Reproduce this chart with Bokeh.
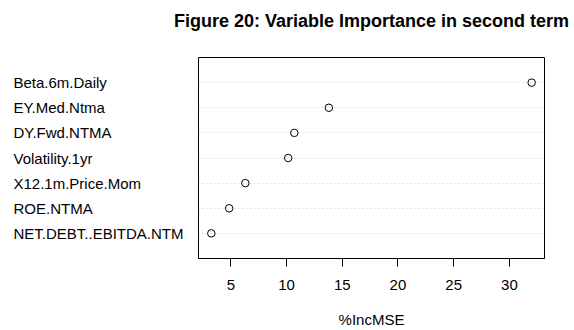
from bokeh.plotting import figure
from bokeh.layouts import row, column
from bokeh.models import Range1d, FixedTicker, ColumnDataSource, Grid
from bokeh.core.properties import value
from bokeh.embed import file_html
from bokeh.resources import INLINE

variables = ["Beta.6m.Daily", "EY.Med.Ntma", "DY.Fwd.NTMA", "Volatility.1yr",
             "X12.1m.Price.Mom", "ROE.NTMA", "NET.DEBT..EBITDA.NTM"]
inc_mse = [32.0, 13.8, 10.7, 10.15, 6.3, 4.85, 3.25]
x_ticks = [5, 10, 15, 20, 25, 30]
title_text = "Figure 20: Variable Importance in second term"
x_title = "%IncMSE"

FONT = "Liberation Sans"
n = len(variables)
ypos = [n - i for i in range(n)]
src = ColumnDataSource(dict(var=variables, v=inc_mse, y=ypos, x0=[0] * n))

lo, hi = min(inc_mse), max(inc_mse)
pad = (hi - lo) * 0.04
yr = Range1d(0, n + 1)

LEFT_W, MAIN_W, RIGHT_B = 198, 376, 30
TITLE_H, ROW_H = 55, 275
TOP, BOTTOM = 2, 71


def clean(fig):
    fig.background_fill_color = "white"
    fig.border_fill_color = "white"
    fig.xgrid.visible = False
    fig.ygrid.visible = False


# title strip (title centred over the plotting frame below it)
tfig = figure(width=LEFT_W + MAIN_W, height=TITLE_H, output_backend="svg",
              toolbar_location=None, x_axis_location=None, y_axis_location=None,
              x_range=Range1d(0, 1), y_range=Range1d(0, 1),
              min_border_left=LEFT_W, min_border_right=RIGHT_B,
              min_border_top=30, min_border_bottom=0)
clean(tfig)
tfig.outline_line_color = None
tfig.title.text = title_text
tfig.title.align = "center"
tfig.title.text_font = FONT
tfig.title.text_font_size = "18px"
tfig.title.text_font_style = "bold"
tfig.title.text_color = "black"
tfig.title.standoff = 0

# left panel with category names (shares the y scale of the main plot)
left = figure(width=LEFT_W, height=ROW_H, output_backend="svg", toolbar_location=None,
              x_range=Range1d(0, 1), y_range=yr,
              x_axis_location=None, y_axis_location=None,
              min_border_left=0, min_border_right=0,
              min_border_top=TOP, min_border_bottom=BOTTOM)
clean(left)
left.outline_line_color = None
left.text(x="x0", y="y", text="var", source=src, x_offset=13,
          text_align="left", text_baseline="middle",
          text_font=value(FONT), text_font_size="15px", text_color="black")

# main dot chart
p = figure(width=MAIN_W, height=ROW_H, output_backend="svg", toolbar_location=None,
           x_range=Range1d(lo - pad, hi + pad), y_range=yr,
           y_axis_location=None,
           min_border_left=0, min_border_right=RIGHT_B,
           min_border_top=TOP, min_border_bottom=BOTTOM)
clean(p)
p.outline_line_color = "black"
p.outline_line_alpha = 1.0
p.outline_line_width = 1

g = Grid(dimension=1, ticker=FixedTicker(ticks=ypos), grid_line_color="#cfcfcf",
         grid_line_dash="1 3", grid_line_width=1)
p.add_layout(g)

p.scatter("v", "y", source=src, size=7.5, marker="circle", fill_color=None,
          line_color="black", line_width=1)

ax = p.xaxis[0]
ax.ticker = FixedTicker(ticks=x_ticks)
ax.major_tick_out = 8
ax.major_tick_in = 0
ax.minor_tick_line_color = None
ax.axis_line_color = "black"
ax.major_tick_line_color = "black"
ax.major_label_text_font = FONT
ax.major_label_text_font_size = "15px"
ax.major_label_text_color = "black"
ax.major_label_standoff = 13
ax.axis_label = x_title
ax.axis_label_text_font = FONT
ax.axis_label_text_font_size = "15px"
ax.axis_label_text_font_style = "normal"
ax.axis_label_text_color = "black"
ax.axis_label_standoff = 18

layout = column(tfig, row(left, p))
open("out.html", "w").write(file_html(layout, INLINE))
